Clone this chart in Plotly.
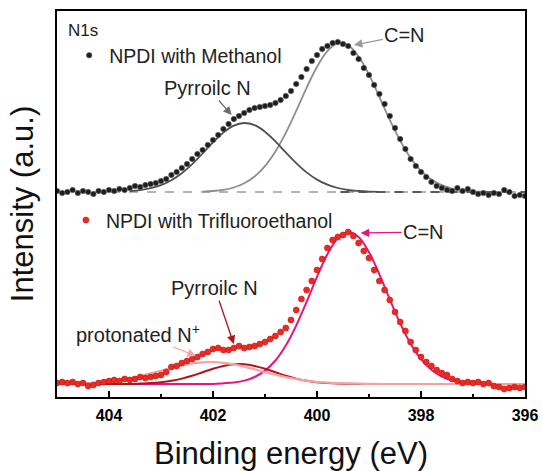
import plotly.graph_objects as go

# ---------------- data ----------------
energy = [405.0, 404.9, 404.8, 404.7, 404.6, 404.5, 404.4, 404.3, 404.2, 404.1,
          404.0, 403.9, 403.8, 403.7, 403.6, 403.5, 403.4, 403.3, 403.2, 403.1,
          403.0, 402.9, 402.8, 402.7, 402.6, 402.5, 402.4, 402.3, 402.2, 402.1,
          402.0, 401.9, 401.8, 401.7, 401.6, 401.5, 401.4, 401.3, 401.2, 401.1,
          401.0, 400.9, 400.8, 400.7, 400.6, 400.5, 400.4, 400.3, 400.2, 400.1,
          400.0, 399.9, 399.8, 399.7, 399.6, 399.5, 399.4, 399.3, 399.2, 399.1,
          399.0, 398.9, 398.8, 398.7, 398.6, 398.5, 398.4, 398.3, 398.2, 398.1,
          398.0, 397.9, 397.8, 397.7, 397.6, 397.5, 397.4, 397.3, 397.2, 397.1,
          397.0, 396.9, 396.8, 396.7, 396.6, 396.5, 396.4, 396.3, 396.2, 396.1, 396.0]

methanol = [1, -1, 0, 2, -1, 1, 0, -2, 1, 0,
            2, 1, 3, 2, 4, 6, 5, 7, 8, 9,
            11, 13, 17, 20, 24, 28, 33, 38, 42, 47,
            52, 57, 63, 68, 73, 76, 79, 82, 84, 85,
            86, 87, 89, 92, 96, 101, 108, 115, 123, 131,
            137, 143, 146, 149, 150, 148, 146, 139, 133, 124,
            117, 107, 98, 88, 76, 64, 53, 43, 33, 26,
            20, 15, 10, 6, 4, 2, 1, 4, 1, 3,
            0, -2, -1, -3, -1, -2, 2, 0, -4, -3, -4]

trifluoroethanol = [1, 2, 1, 2, 0, 1, -2, -1, 1, 2,
                    3, 4, 3, 5, 4, 5, 7, 6, 7, 8,
                    9, 12, 17, 18, 21, 23, 25, 27, 30, 32,
                    35, 36, 34, 34, 36, 38, 36, 37, 38, 40,
                    42, 45, 48, 52, 56, 64, 74, 85, 94, 103,
                    114, 125, 136, 144, 147, 149, 152, 148, 141, 133,
                    126, 114, 103, 94, 84, 72, 62, 53, 42, 34,
                    27, 22, 18, 14, 11, 9, 5, 3, 1, 2,
                    1, 2, 0, 1, -2, -3, -5, -4, -3, -4, -3]

fit_energy = [405.0, 404.8, 404.6, 404.4, 404.2, 404.0, 403.8, 403.6, 403.4, 403.2,
              403.0, 402.8, 402.6, 402.4, 402.2, 402.0, 401.8, 401.6, 401.4, 401.2,
              401.0, 400.8, 400.6, 400.4, 400.2, 400.0, 399.8, 399.6, 399.4, 399.2,
              399.0, 398.8, 398.6, 398.4, 398.2, 398.0, 397.8, 397.6, 397.4, 397.2,
              397.0, 396.8, 396.6, 396.4, 396.2, 396.0]

meth_cn = [None, None, None, None, None, None, None, None, None, None,
           None, None, None, None, 0.4, 1.0, 2.2, 4.5, 8.7, 15.5,
           25.8, 40.4, 59.2, 81.1, 104.2, 125.2, 140.9, 148.6, 146.6, 135.5,
           117.3, 95.0, 72.1, 51.2, 34.0, 21.2, 12.4, 6.8, 3.5, 1.7,
           0.7, 0.3, None, None, None, None]

meth_pyr = [None, None, None, None, None, None, None, 0.9, 1.9, 3.8,
            6.9, 11.8, 18.8, 27.9, 38.5, 49.6, 59.4, 66.4, 69.0, 66.8,
            60.3, 50.6, 39.6, 28.9, 19.6, 12.4, 7.3, 4.0, 2.0, 1.0,
            0.4, 0.2, None, None, None, None, None, None, None, None,
            None, None, None, None, None, None]

tfe_cn = [0, 0, 0, 0, 0, 0, 0, 0, 0, 0,
          0, 0, 0, 0, 0, 0, 0.7, 1.6, 3.4, 7.0,
          13.4, 23.5, 38.5, 58.4, 82.1, 107.2, 129.8, 145.8, 152.0, 146.9,
          131.8, 109.6, 84.6, 60.6, 40.2, 24.8, 14.2, 7.5, 3.7, 1.7,
          0.7, 0.3, 0, 0, 0, 0]

tfe_pyr = [0, 0, 0, 0, 0, 0, 0, 0, 0.4, 0.9,
           1.8, 3.2, 5.4, 8.3, 11.8, 15.3, 18.1, 19.8, 19.8, 18.1,
           15.3, 11.8, 8.3, 5.4, 3.2, 1.8, 0.9, 0.4, 0.2, 0,
           0, 0, 0, 0, 0, 0, 0, 0, 0, 0,
           0, 0, 0, 0, 0, 0]

tfe_prot = [0.2, 0.3, 0.6, 1.0, 1.7, 2.7, 4.0, 5.8, 8.0, 10.6,
            13.3, 16.1, 18.6, 20.6, 21.7, 22.0, 21.2, 19.7, 17.4, 14.7,
            11.9, 9.3, 6.9, 4.9, 3.3, 2.1, 1.3, 0.8, 0.5, 0.3,
            0.1, 0, 0, 0, 0, 0, 0, 0, 0, 0,
            0, 0, 0, 0, 0, 0]

x_ticks = [404, 402, 400, 398, 396]
x_tick_labels = ["404", "402", "400", "398", "396"]

# vertical offsets of the two stacked spectra (a.u.)
TOP_OFFSET = 205
BOTTOM_OFFSET = 13


def shift(vals, off):
    return [None if v is None else v + off for v in vals]


FONT = "Liberation Sans, Arial, sans-serif"

fig = go.Figure()

# dashed baseline of the top spectrum
fig.add_shape(type="line", xref="paper", x0=0, x1=1, yref="y", y0=TOP_OFFSET, y1=TOP_OFFSET,
              line=dict(color="#b4b4b4", width=2, dash="dash"), layer="below")
fig.add_shape(type="line", xref="x", x0=399.55, x1=396, yref="y", y0=TOP_OFFSET, y1=TOP_OFFSET,
              line=dict(color="#5a5a5a", width=2, dash="dash"), layer="below")

# ---- top spectrum (methanol) ----
fig.add_trace(go.Scatter(x=fit_energy, y=shift(meth_cn, TOP_OFFSET), mode="lines",
                         line=dict(color="#8f8f8f", width=1.8), showlegend=False,
                         connectgaps=False, line_shape="spline"))
fig.add_trace(go.Scatter(x=fit_energy, y=shift(meth_pyr, TOP_OFFSET), mode="lines",
                         line=dict(color="#505050", width=1.8), showlegend=False,
                         connectgaps=False, line_shape="spline"))
fig.add_trace(go.Scatter(x=energy, y=shift(methanol, TOP_OFFSET), mode="markers",
                         name="NPDI with Methanol", legend="legend",
                         marker=dict(color="#1e1e1e", size=5.5,
                                     line=dict(color="#6a6a6a", width=0.6))))

# ---- bottom spectrum (trifluoroethanol) ----
fig.add_trace(go.Scatter(x=fit_energy, y=shift(tfe_cn, BOTTOM_OFFSET), mode="lines",
                         line=dict(color="#e8157d", width=2), showlegend=False,
                         line_shape="spline"))
fig.add_trace(go.Scatter(x=fit_energy, y=shift(tfe_pyr, BOTTOM_OFFSET), mode="lines",
                         line=dict(color="#b3121a", width=2), showlegend=False,
                         line_shape="spline"))
fig.add_trace(go.Scatter(x=fit_energy, y=shift(tfe_prot, BOTTOM_OFFSET), mode="lines",
                         line=dict(color="#f4a3a3", width=2.2), showlegend=False,
                         line_shape="spline"))
fig.add_trace(go.Scatter(x=energy, y=shift(trifluoroethanol, BOTTOM_OFFSET), mode="markers",
                         name="NPDI with Trifluoroethanol", legend="legend2",
                         marker=dict(color="#ec2a22", size=6,
                                     line=dict(color="#c01414", width=0.6))))


def label(x, y, text, size=20, xanchor="center"):
    fig.add_annotation(x=x, y=y, text=text, showarrow=False, xanchor=xanchor, yanchor="middle",
                       font=dict(family=FONT, size=size, color="#222222"))


def arrow_label(tip_x, tip_y, ax, ay, text, color, size=20):
    # text is centred at (tip + offset in pixels); the arrow runs from the text box to the tip
    fig.add_annotation(x=tip_x, y=tip_y, ax=ax, ay=ay, axref="pixel", ayref="pixel", text=text,
                       showarrow=True, arrowhead=2, arrowsize=1.3, arrowwidth=1.3,
                       arrowcolor=color, standoff=0, borderpad=1,
                       font=dict(family=FONT, size=size, color="#222222"))


label(404.82, 367, "N1s", size=17, xanchor="left")
arrow_label(401.64, 282, -24, -27, "Pyrroilc N", "#6e6e6e")
arrow_label(399.29, 352, 51, -10, "C=N", "#9a9a9a")

arrow_label(399.16, 164, 63, -1, "C=N", "#e8157d")
arrow_label(401.60, 53, -19, -56, "Pyrroilc N", "#b3121a")
arrow_label(402.33, 41, -58, -23, "protonated N<sup>+</sup>", "#f4a6a6")

fig.update_layout(
    width=542, height=471,
    margin=dict(l=57, r=17, t=11, b=74, autoexpand=False),
    paper_bgcolor="white", plot_bgcolor="white",
    font=dict(family=FONT, color="#222222"),
    legend=dict(x=0.026, y=0.935, xanchor="left", yanchor="top", bgcolor="rgba(0,0,0,0)",
                font=dict(family=FONT, size=19.5, color="#222222")),
    legend2=dict(x=0.019, y=0.508, xanchor="left", yanchor="top", bgcolor="rgba(0,0,0,0)",
                 font=dict(family=FONT, size=19.5, color="#222222")),
    xaxis=dict(range=[405, 396], tickmode="array", tickvals=x_ticks, ticktext=x_tick_labels,
               ticks="inside", ticklen=6, tickwidth=1.5, tickcolor="black",
               minor=dict(tickmode="linear", tick0=396, dtick=1, ticks="inside", ticklen=3,
                          tickwidth=1.5, tickcolor="black"),
               showline=True, linewidth=2, linecolor="black", mirror=True,
               showgrid=False, zeroline=False, ticklabelstandoff=3, automargin=False,
               tickfont=dict(family=FONT, size=16, color="black", weight="bold"),
               title=dict(text="Binding energy (eV)", standoff=22,
                          font=dict(family=FONT, size=31, color="#111111"))),
    yaxis=dict(range=[0, 386], showticklabels=False, ticks="", automargin=False,
               showline=True, linewidth=2, linecolor="black", mirror=True,
               showgrid=False, zeroline=False,
               title=dict(text="Intensity (a.u.)", standoff=12,
                          font=dict(family=FONT, size=31, color="#111111"))),
)

fig.write_html("out.html")
